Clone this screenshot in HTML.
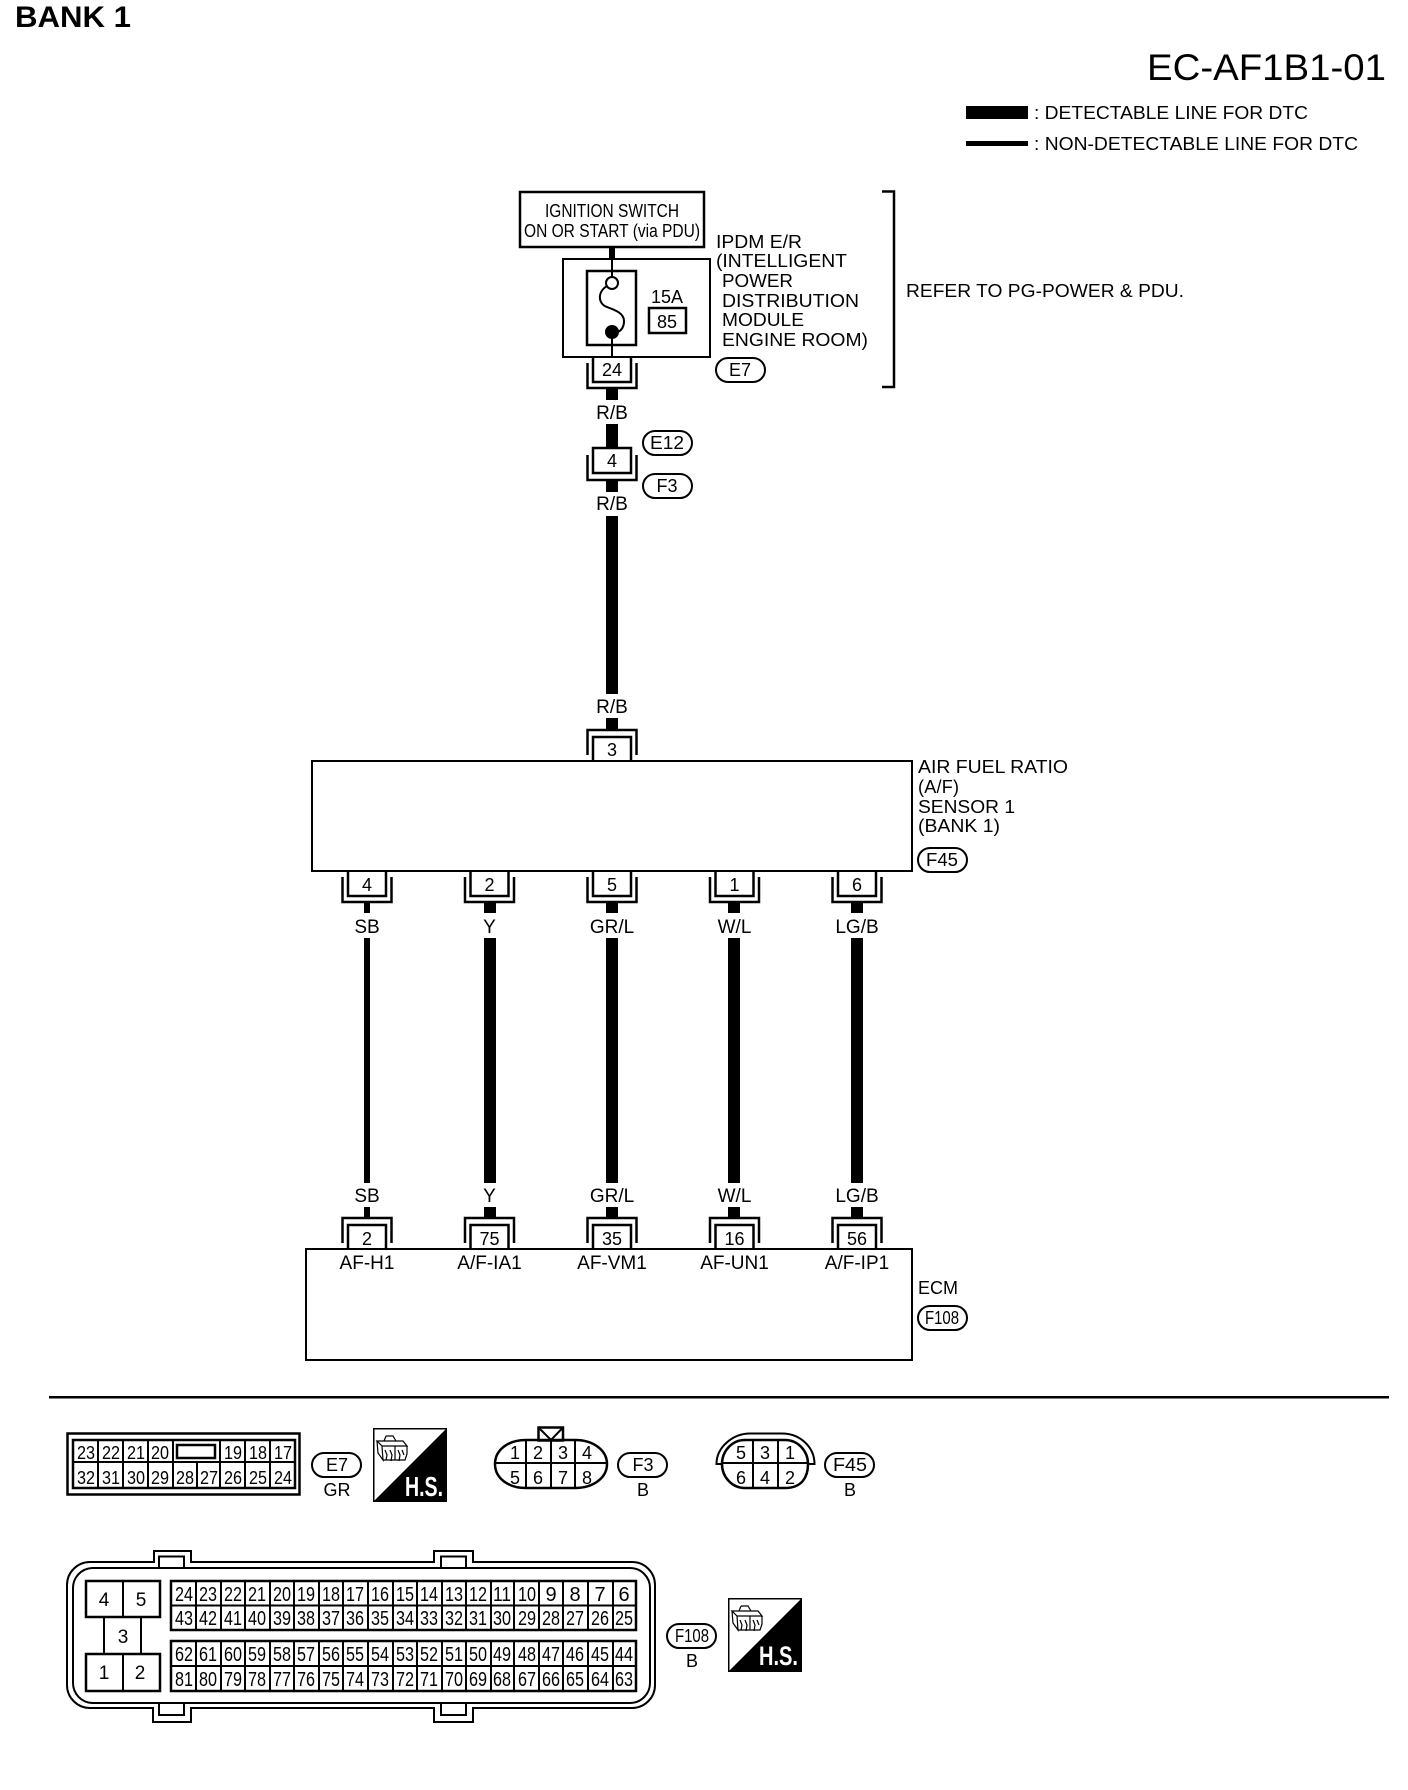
<!DOCTYPE html>
<html><head><meta charset="utf-8"><title>EC-AF1B1-01</title>
<style>
html,body{margin:0;padding:0;background:#fff;width:1408px;height:1790px;overflow:hidden}
svg{display:block}
text{font-family:"Liberation Sans",sans-serif;font-size:18px;fill:#000}
.m{text-anchor:middle}
.l{font-size:19px}
.s{fill:none;stroke:#000;stroke-width:2}
.t{fill:none;stroke:#000;stroke-width:2.5}
.w{fill:#fff;stroke:#000;stroke-width:2}
.c20 text{font-size:20px;text-anchor:middle}
.c18 text{font-size:18px;text-anchor:middle}
</style></head><body>
<svg width="1408" height="1790" viewBox="0 0 1408 1790" xmlns="http://www.w3.org/2000/svg">
<defs>
<g id="dn"><path class="t" d="M-19,0V25H19V0"/><path class="t" d="M-24.5,6V31H24.5V6"/></g>
<g id="up"><path class="t" d="M-19,0V-24H19V0"/><path class="t" d="M-24.5,-6V-31H24.5V-6"/></g>
<g id="hs">
<rect x="0.75" y="0.75" width="72.5" height="72.5" fill="#fff" stroke="#000" stroke-width="1.5"/>
<polygon points="73,1 73,73 1,73" fill="#000"/>
<path d="M4,13H30L34,18H9ZM4,13L5,25L10,32L9,18M10,32H32L34,26V18M22,18V32M13,8H20L23,13M13,8L11,13M12,22L14,27L13,32M17,22L19,27L18,33M25,22L27,27L26,33M29,22L31,27" fill="none" stroke="#000" stroke-width="1.2"/>
</g>
</defs>

<text x="15" y="27" style="font-size:30px;font-weight:bold" textLength="116" lengthAdjust="spacingAndGlyphs">BANK 1</text>
<text x="1147" y="80" style="font-size:37px" textLength="239" lengthAdjust="spacingAndGlyphs">EC-AF1B1-01</text>
<rect x="966" y="106" width="62" height="13"/>
<rect x="966" y="141" width="62" height="5"/>
<text x="1034" y="119" textLength="274" lengthAdjust="spacingAndGlyphs">: DETECTABLE LINE FOR DTC</text>
<text x="1034" y="150" textLength="324" lengthAdjust="spacingAndGlyphs">: NON-DETECTABLE LINE FOR DTC</text>

<!-- Ignition -->
<rect class="t" x="520" y="192" width="184" height="55" fill="#fff"/>
<text class="m" x="612" y="217" textLength="134" lengthAdjust="spacingAndGlyphs">IGNITION SWITCH</text>
<text class="m" x="612" y="237" textLength="176" lengthAdjust="spacingAndGlyphs">ON OR START (via PDU)</text>
<rect x="609" y="247" width="6" height="12"/>
<rect class="s" x="563" y="259" width="147" height="98"/>
<rect class="t" x="587" y="271" width="49" height="74"/>
<path class="s" d="M612,259V277M612,338V357"/>
<circle class="s" cx="612" cy="283" r="6"/>
<circle cx="612" cy="332" r="7"/>
<path class="s" d="M607,286C597,292 598,304 607,307C615,310 624,313 624,321C624,326 622,330 618,332"/>
<text class="m" x="667" y="303">15A</text>
<rect class="t" x="649" y="308" width="37" height="25"/>
<text class="m" x="667" y="328">85</text>
<text x="716" y="248" textLength="86" lengthAdjust="spacingAndGlyphs">IPDM E/R</text>
<text x="716" y="267" textLength="131" lengthAdjust="spacingAndGlyphs">(INTELLIGENT</text>
<text x="722" y="287" textLength="71" lengthAdjust="spacingAndGlyphs">POWER</text>
<text x="722" y="307" textLength="137" lengthAdjust="spacingAndGlyphs">DISTRIBUTION</text>
<text x="722" y="326" textLength="82" lengthAdjust="spacingAndGlyphs">MODULE</text>
<text x="722" y="346" textLength="146" lengthAdjust="spacingAndGlyphs">ENGINE ROOM)</text>
<path class="t" d="M882,191.5H894V387H882"/>
<text x="906" y="297" textLength="278" lengthAdjust="spacingAndGlyphs">REFER TO PG-POWER &amp; PDU.</text>

<use href="#dn" x="612" y="357"/>
<text class="m" x="612" y="376">24</text>
<rect class="w" x="716" y="358" width="49" height="24" rx="12"/>
<text class="m" x="740" y="376">E7</text>

<!-- R/B chain -->
<rect x="606" y="388" width="12" height="12"/>
<text class="m l" x="612" y="419">R/B</text>
<rect x="606" y="424" width="12" height="24"/>
<rect class="t" x="593" y="448" width="38" height="25"/>
<path class="t" d="M587.5,455V480H636.5V455"/>
<text class="m" x="612" y="467">4</text>
<rect class="w" x="643" y="431" width="49" height="24" rx="12"/>
<text class="m" x="667" y="449" textLength="34" lengthAdjust="spacingAndGlyphs">E12</text>
<rect class="w" x="643" y="474" width="49" height="24" rx="12"/>
<text class="m" x="667" y="492">F3</text>
<rect x="606" y="480" width="12" height="12"/>
<text class="m l" x="612" y="510">R/B</text>
<rect x="606" y="516" width="12" height="178"/>
<text class="m l" x="612" y="713">R/B</text>
<rect x="606" y="718" width="12" height="11"/>

<!-- Sensor -->
<use href="#up" x="612" y="761"/>
<text class="m" x="612" y="756">3</text>
<rect class="s" x="312" y="761" width="600" height="110"/>
<text x="918" y="773" textLength="150" lengthAdjust="spacingAndGlyphs">AIR FUEL RATIO</text>
<text x="918" y="793" textLength="41">(A/F)</text>
<text x="918" y="813" textLength="97" lengthAdjust="spacingAndGlyphs">SENSOR 1</text>
<text x="918" y="832" textLength="82" lengthAdjust="spacingAndGlyphs">(BANK 1)</text>
<rect class="w" x="918" y="848" width="49" height="24" rx="12"/>
<text class="m" x="942" y="866" textLength="32" lengthAdjust="spacingAndGlyphs">F45</text>

<use href="#dn" x="367" y="871"/><use href="#dn" x="489.5" y="871"/><use href="#dn" x="612" y="871"/><use href="#dn" x="734.5" y="871"/><use href="#dn" x="857" y="871"/>
<text class="m" x="367" y="891">4</text><text class="m" x="489.5" y="891">2</text><text class="m" x="612" y="891">5</text><text class="m" x="734.5" y="891">1</text><text class="m" x="857" y="891">6</text>

<!-- wires -->
<rect x="364" y="902" width="6" height="11"/><rect x="364" y="938" width="6" height="245"/><rect x="364" y="1207" width="6" height="11"/>
<rect x="484" y="902" width="12" height="11"/><rect x="484" y="938" width="12" height="245"/><rect x="484" y="1207" width="12" height="11"/>
<rect x="606" y="902" width="12" height="11"/><rect x="606" y="938" width="12" height="245"/><rect x="606" y="1207" width="12" height="11"/>
<rect x="728" y="902" width="12" height="11"/><rect x="728" y="938" width="12" height="245"/><rect x="728" y="1207" width="12" height="11"/>
<rect x="851" y="902" width="12" height="11"/><rect x="851" y="938" width="12" height="245"/><rect x="851" y="1207" width="12" height="11"/>
<text class="m l" x="367" y="933">SB</text><text class="m l" x="489.5" y="933">Y</text><text class="m l" x="612" y="933">GR/L</text><text class="m l" x="734.5" y="933">W/L</text><text class="m l" x="857" y="933">LG/B</text>
<text class="m l" x="367" y="1202">SB</text><text class="m l" x="489.5" y="1202">Y</text><text class="m l" x="612" y="1202">GR/L</text><text class="m l" x="734.5" y="1202">W/L</text><text class="m l" x="857" y="1202">LG/B</text>

<!-- ECM -->
<use href="#up" x="367" y="1249"/><use href="#up" x="489.5" y="1249"/><use href="#up" x="612" y="1249"/><use href="#up" x="734.5" y="1249"/><use href="#up" x="857" y="1249"/>
<text class="m" x="367" y="1245">2</text><text class="m" x="489.5" y="1245">75</text><text class="m" x="612" y="1245">35</text><text class="m" x="734.5" y="1245">16</text><text class="m" x="857" y="1245">56</text>
<rect class="s" x="306" y="1249" width="606" height="111"/>
<text class="m l" x="367" y="1269">AF-H1</text><text class="m l" x="489.5" y="1269">A/F-IA1</text><text class="m l" x="612" y="1269">AF-VM1</text><text class="m l" x="734.5" y="1269">AF-UN1</text><text class="m l" x="857" y="1269">A/F-IP1</text>
<text x="918" y="1294">ECM</text>
<rect class="w" x="918" y="1306" width="49" height="24" rx="12"/>
<text class="m" x="942" y="1324" textLength="34" lengthAdjust="spacingAndGlyphs">F108</text>

<rect x="49" y="1396" width="1340" height="2.5"/>

<!-- E7 connector -->
<rect class="t" x="67.5" y="1433.5" width="232" height="61"/>
<rect class="t" x="73" y="1440" width="222" height="48"/>
<path class="s" d="M73,1462H295M98,1440V1488M123,1440V1488M148,1440V1488M173,1440V1488M197,1462V1488M220,1440V1488M245,1440V1488M270,1440V1488"/>
<rect class="t" x="177" y="1445" width="38" height="13"/>
<g class="c18">
<text x="86" y="1459" textLength="18" lengthAdjust="spacingAndGlyphs">23</text><text x="111" y="1459" textLength="18" lengthAdjust="spacingAndGlyphs">22</text><text x="136" y="1459" textLength="18" lengthAdjust="spacingAndGlyphs">21</text><text x="160" y="1459" textLength="18" lengthAdjust="spacingAndGlyphs">20</text><text x="233" y="1459" textLength="18" lengthAdjust="spacingAndGlyphs">19</text><text x="258" y="1459" textLength="18" lengthAdjust="spacingAndGlyphs">18</text><text x="283" y="1459" textLength="18" lengthAdjust="spacingAndGlyphs">17</text>
<text x="86" y="1484" textLength="18" lengthAdjust="spacingAndGlyphs">32</text><text x="111" y="1484" textLength="18" lengthAdjust="spacingAndGlyphs">31</text><text x="136" y="1484" textLength="18" lengthAdjust="spacingAndGlyphs">30</text><text x="160" y="1484" textLength="18" lengthAdjust="spacingAndGlyphs">29</text><text x="185" y="1484" textLength="18" lengthAdjust="spacingAndGlyphs">28</text><text x="209" y="1484" textLength="18" lengthAdjust="spacingAndGlyphs">27</text><text x="233" y="1484" textLength="18" lengthAdjust="spacingAndGlyphs">26</text><text x="258" y="1484" textLength="18" lengthAdjust="spacingAndGlyphs">25</text><text x="283" y="1484" textLength="18" lengthAdjust="spacingAndGlyphs">24</text>
</g>
<rect class="w" x="312" y="1453" width="49" height="24" rx="12"/>
<text class="m" x="337" y="1471">E7</text>
<text class="m" x="337" y="1496">GR</text>
<use href="#hs" x="373" y="1428"/>
<text x="405" y="1496" style="font-size:28px;font-weight:bold;fill:#fff" textLength="38" lengthAdjust="spacingAndGlyphs">H.S.</text>

<!-- F3 connector -->
<rect class="t" x="538.5" y="1427.5" width="24.5" height="13" fill="#fff"/>
<path class="s" d="M538.5,1427.5L551,1440L563,1427.5"/>
<path class="t" fill="#fff" d="M526,1440H575C593,1440 607,1450 607,1464C607,1478 593,1488 575,1488H526C508,1488 495,1478 495,1464C495,1450 508,1440 526,1440Z"/>
<path class="s" d="M495,1463H607M526,1440V1488M551,1440V1488M575,1440V1488"/>
<text class="m" x="515" y="1459">1</text><text class="m" x="538" y="1459">2</text><text class="m" x="563" y="1459">3</text><text class="m" x="587" y="1459">4</text>
<text class="m" x="515" y="1484">5</text><text class="m" x="538" y="1484">6</text><text class="m" x="563" y="1484">7</text><text class="m" x="587" y="1484">8</text>
<rect class="w" x="618" y="1453" width="49" height="24" rx="12"/>
<text class="m" x="643" y="1471">F3</text>
<text class="m" x="643" y="1496">B</text>

<!-- F45 connector -->
<path class="s" d="M722,1464H716.5C716.5,1447 733,1433.5 750,1433.5H782C800,1433.5 814.5,1447 814.5,1464H808"/>
<path class="t" fill="#fff" d="M745,1440H785C798,1440 808,1451 808,1464C808,1477 802,1488 785,1488H745C732,1488 722,1477 722,1464C722,1451 732,1440 745,1440Z"/>
<path class="s" d="M722,1463H808M753,1440V1488M778,1440V1488"/>
<text class="m" x="741" y="1459">5</text><text class="m" x="765" y="1459">3</text><text class="m" x="790" y="1459">1</text>
<text class="m" x="741" y="1484">6</text><text class="m" x="765" y="1484">4</text><text class="m" x="790" y="1484">2</text>
<rect class="w" x="825" y="1453" width="49" height="24" rx="12"/>
<text class="m" x="850" y="1471" textLength="34" lengthAdjust="spacingAndGlyphs">F45</text>
<text class="m" x="850" y="1496">B</text>

<!-- ECM connector -->
<path class="s" d="M90,1562H154V1551H191V1562H434V1551H473V1562H632A23,23 0 0 1 655,1585V1685A23,23 0 0 1 632,1708H473V1722H434V1708H191V1722H153V1708H90A23,23 0 0 1 67,1685V1585A23,23 0 0 1 90,1562Z"/>
<path class="s" d="M92,1568H630A20,20 0 0 1 650,1588V1683A20,20 0 0 1 630,1703H92A20,20 0 0 1 73,1683V1588A20,20 0 0 1 92,1568Z"/>
<path class="s" d="M159,1568V1556.5H184V1568M441,1568V1556.5H466V1568M159,1703V1715H184V1703M441,1703V1715H466V1703"/>
<rect class="t" x="86" y="1581" width="74" height="36"/>
<rect class="t" x="86" y="1654" width="74" height="37"/>
<path class="s" d="M123,1581V1617M123,1654V1691M104,1617V1654M141,1617V1654"/>
<text class="m" x="104" y="1606" style="font-size:19px">4</text><text class="m" x="141" y="1606" style="font-size:19px">5</text><text class="m" x="123" y="1643" style="font-size:19px">3</text><text class="m" x="104" y="1679" style="font-size:19px">1</text><text class="m" x="140" y="1679" style="font-size:19px">2</text>
<rect class="t" x="171" y="1581" width="465" height="49"/>
<rect class="t" x="171" y="1641" width="465" height="50"/>
<path class="s" d="M171,1605.5H636M171,1666H636M196,1581V1630M221,1581V1630M245,1581V1630M270,1581V1630M294,1581V1630M319,1581V1630M343,1581V1630M368,1581V1630M393,1581V1630M417,1581V1630M442,1581V1630M466,1581V1630M491,1581V1630M514,1581V1630M539,1581V1630M563,1581V1630M588,1581V1630M613,1581V1630M196,1641V1691M221,1641V1691M245,1641V1691M270,1641V1691M294,1641V1691M319,1641V1691M343,1641V1691M368,1641V1691M393,1641V1691M417,1641V1691M442,1641V1691M466,1641V1691M491,1641V1691M514,1641V1691M539,1641V1691M563,1641V1691M588,1641V1691M613,1641V1691"/>
<g class="c20">
<text x="184" y="1601" textLength="18" lengthAdjust="spacingAndGlyphs">24</text><text x="208" y="1601" textLength="18" lengthAdjust="spacingAndGlyphs">23</text><text x="233" y="1601" textLength="18" lengthAdjust="spacingAndGlyphs">22</text><text x="257" y="1601" textLength="18" lengthAdjust="spacingAndGlyphs">21</text><text x="282" y="1601" textLength="18" lengthAdjust="spacingAndGlyphs">20</text><text x="306" y="1601" textLength="18" lengthAdjust="spacingAndGlyphs">19</text><text x="331" y="1601" textLength="18" lengthAdjust="spacingAndGlyphs">18</text><text x="355" y="1601" textLength="18" lengthAdjust="spacingAndGlyphs">17</text><text x="380" y="1601" textLength="18" lengthAdjust="spacingAndGlyphs">16</text><text x="405" y="1601" textLength="18" lengthAdjust="spacingAndGlyphs">15</text><text x="429" y="1601" textLength="18" lengthAdjust="spacingAndGlyphs">14</text><text x="454" y="1601" textLength="18" lengthAdjust="spacingAndGlyphs">13</text><text x="478" y="1601" textLength="18" lengthAdjust="spacingAndGlyphs">12</text><text x="502" y="1601" textLength="18" lengthAdjust="spacingAndGlyphs">11</text><text x="527" y="1601" textLength="18" lengthAdjust="spacingAndGlyphs">10</text><text x="551" y="1601">9</text><text x="575" y="1601">8</text><text x="600" y="1601">7</text><text x="624" y="1601">6</text>
<text x="184" y="1625" textLength="18" lengthAdjust="spacingAndGlyphs">43</text><text x="208" y="1625" textLength="18" lengthAdjust="spacingAndGlyphs">42</text><text x="233" y="1625" textLength="18" lengthAdjust="spacingAndGlyphs">41</text><text x="257" y="1625" textLength="18" lengthAdjust="spacingAndGlyphs">40</text><text x="282" y="1625" textLength="18" lengthAdjust="spacingAndGlyphs">39</text><text x="306" y="1625" textLength="18" lengthAdjust="spacingAndGlyphs">38</text><text x="331" y="1625" textLength="18" lengthAdjust="spacingAndGlyphs">37</text><text x="355" y="1625" textLength="18" lengthAdjust="spacingAndGlyphs">36</text><text x="380" y="1625" textLength="18" lengthAdjust="spacingAndGlyphs">35</text><text x="405" y="1625" textLength="18" lengthAdjust="spacingAndGlyphs">34</text><text x="429" y="1625" textLength="18" lengthAdjust="spacingAndGlyphs">33</text><text x="454" y="1625" textLength="18" lengthAdjust="spacingAndGlyphs">32</text><text x="478" y="1625" textLength="18" lengthAdjust="spacingAndGlyphs">31</text><text x="502" y="1625" textLength="18" lengthAdjust="spacingAndGlyphs">30</text><text x="527" y="1625" textLength="18" lengthAdjust="spacingAndGlyphs">29</text><text x="551" y="1625" textLength="18" lengthAdjust="spacingAndGlyphs">28</text><text x="575" y="1625" textLength="18" lengthAdjust="spacingAndGlyphs">27</text><text x="600" y="1625" textLength="18" lengthAdjust="spacingAndGlyphs">26</text><text x="624" y="1625" textLength="18" lengthAdjust="spacingAndGlyphs">25</text>
<text x="184" y="1661" textLength="18" lengthAdjust="spacingAndGlyphs">62</text><text x="208" y="1661" textLength="18" lengthAdjust="spacingAndGlyphs">61</text><text x="233" y="1661" textLength="18" lengthAdjust="spacingAndGlyphs">60</text><text x="257" y="1661" textLength="18" lengthAdjust="spacingAndGlyphs">59</text><text x="282" y="1661" textLength="18" lengthAdjust="spacingAndGlyphs">58</text><text x="306" y="1661" textLength="18" lengthAdjust="spacingAndGlyphs">57</text><text x="331" y="1661" textLength="18" lengthAdjust="spacingAndGlyphs">56</text><text x="355" y="1661" textLength="18" lengthAdjust="spacingAndGlyphs">55</text><text x="380" y="1661" textLength="18" lengthAdjust="spacingAndGlyphs">54</text><text x="405" y="1661" textLength="18" lengthAdjust="spacingAndGlyphs">53</text><text x="429" y="1661" textLength="18" lengthAdjust="spacingAndGlyphs">52</text><text x="454" y="1661" textLength="18" lengthAdjust="spacingAndGlyphs">51</text><text x="478" y="1661" textLength="18" lengthAdjust="spacingAndGlyphs">50</text><text x="502" y="1661" textLength="18" lengthAdjust="spacingAndGlyphs">49</text><text x="527" y="1661" textLength="18" lengthAdjust="spacingAndGlyphs">48</text><text x="551" y="1661" textLength="18" lengthAdjust="spacingAndGlyphs">47</text><text x="575" y="1661" textLength="18" lengthAdjust="spacingAndGlyphs">46</text><text x="600" y="1661" textLength="18" lengthAdjust="spacingAndGlyphs">45</text><text x="624" y="1661" textLength="18" lengthAdjust="spacingAndGlyphs">44</text>
<text x="184" y="1686" textLength="18" lengthAdjust="spacingAndGlyphs">81</text><text x="208" y="1686" textLength="18" lengthAdjust="spacingAndGlyphs">80</text><text x="233" y="1686" textLength="18" lengthAdjust="spacingAndGlyphs">79</text><text x="257" y="1686" textLength="18" lengthAdjust="spacingAndGlyphs">78</text><text x="282" y="1686" textLength="18" lengthAdjust="spacingAndGlyphs">77</text><text x="306" y="1686" textLength="18" lengthAdjust="spacingAndGlyphs">76</text><text x="331" y="1686" textLength="18" lengthAdjust="spacingAndGlyphs">75</text><text x="355" y="1686" textLength="18" lengthAdjust="spacingAndGlyphs">74</text><text x="380" y="1686" textLength="18" lengthAdjust="spacingAndGlyphs">73</text><text x="405" y="1686" textLength="18" lengthAdjust="spacingAndGlyphs">72</text><text x="429" y="1686" textLength="18" lengthAdjust="spacingAndGlyphs">71</text><text x="454" y="1686" textLength="18" lengthAdjust="spacingAndGlyphs">70</text><text x="478" y="1686" textLength="18" lengthAdjust="spacingAndGlyphs">69</text><text x="502" y="1686" textLength="18" lengthAdjust="spacingAndGlyphs">68</text><text x="527" y="1686" textLength="18" lengthAdjust="spacingAndGlyphs">67</text><text x="551" y="1686" textLength="18" lengthAdjust="spacingAndGlyphs">66</text><text x="575" y="1686" textLength="18" lengthAdjust="spacingAndGlyphs">65</text><text x="600" y="1686" textLength="18" lengthAdjust="spacingAndGlyphs">64</text><text x="624" y="1686" textLength="18" lengthAdjust="spacingAndGlyphs">63</text>
</g>
<rect class="w" x="667" y="1624" width="49" height="24" rx="12"/>
<text class="m" x="692" y="1642" textLength="34" lengthAdjust="spacingAndGlyphs">F108</text>
<text class="m" x="692" y="1667">B</text>
<use href="#hs" x="728" y="1598"/>
<text x="759" y="1665" style="font-size:27px;font-weight:bold;fill:#fff" textLength="39" lengthAdjust="spacingAndGlyphs">H.S.</text>
</svg>
</body></html>
